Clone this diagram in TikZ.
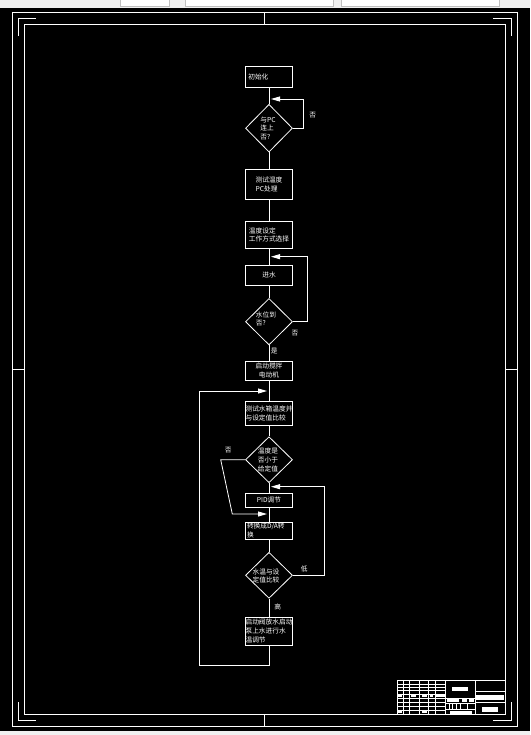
\documentclass[tikz,border=0pt]{standalone}
\usepackage{fontspec}
\newfontfamily\cjk{Noto Sans CJK SC}
\usetikzlibrary{shapes.geometric,arrows.meta}
\begin{document}
\begin{tikzpicture}[x=1pt,y=-1pt,
  line/.style={draw=white,line width=0.8pt},
  frame/.style={draw=white,line width=0.8pt},
  tb/.style={draw=white,line width=0.6pt},
  blob/.style={fill=white},
  box/.style={draw=white,line width=0.8pt,rectangle,minimum width=47.4pt,inner xsep=0pt,inner ysep=0.5pt,text=white,font=\cjk\fontsize{6.7}{8.6}\selectfont,align=left},
  dia/.style={draw=white,line width=0.8pt,diamond,minimum width=47pt,minimum height=46.5pt,inner sep=0pt},
  dtext/.style={text=white,font=\cjk\fontsize{6.7}{8.6}\selectfont,align=left,inner sep=0pt},
  lbl/.style={text=white,font=\cjk\fontsize{6.7}{8.6}\selectfont,inner sep=0pt},
  arr/.style={line,-{Triangle[length=9pt,width=5pt]},shorten >=2pt},
]
\useasboundingbox (0,0) rectangle (530,735);
% background and UI strips
\fill[black] (0,8) rectangle (530,731);
\fill[gray!12] (0,0) rectangle (530,8);
\fill[gray!12] (0,731) rectangle (530,735);
\filldraw[fill=white,draw=gray!50,line width=0.4pt] (120,-1) rectangle (169,6);
\filldraw[fill=white,draw=gray!50,line width=0.4pt] (185,-1) rectangle (333,6);
\filldraw[fill=white,draw=gray!50,line width=0.4pt] (341,-1) rectangle (499,6);
% drawing frame
\draw[frame] (12,12) rectangle (517,726);
\draw[frame] (24,24) rectangle (505,714);
\draw[frame] (18,36) -- (18,18) -- (36,18);
\draw[frame] (493,18) -- (511,18) -- (511,36);
\draw[frame] (18,702) -- (18,720) -- (36,720);
\draw[frame] (493,720) -- (511,720) -- (511,702);
\draw[frame] (264.5,12) -- (264.5,24);
\draw[frame] (264.5,714) -- (264.5,726);
\draw[frame] (12,369) -- (24,369);
\draw[frame] (505,369) -- (517,369);
% title block
\draw[tb] (397.3,680) rectangle (505,714);
\foreach \xx in {403.3,409.3,419.3,428.7,435.7,445.7,475} \draw[tb] (\xx,680) -- (\xx,714);
\foreach \yy in {684.3,687.3,690.7,694,698,702,706,710} \draw[tb] (397.3,\yy) -- (445.7,\yy);
\draw[tb] (445.7,698) -- (475,698);
\draw[tb] (445.7,703.3) -- (475,703.3);
\draw[tb] (445.7,709.3) -- (475,709.3);
\foreach \xx in {449,452.7,456.7,460.7,467.3} \draw[tb] (\xx,703.3) -- (\xx,709.3);
\draw[tb] (475,691.3) -- (505,691.3);
\draw[tb] (475,702.7) -- (505,702.7);
\fill[blob] (452,686.7) rectangle (468,691.3);
\fill[blob] (446.7,699.3) rectangle (459,702);
\fill[blob] (462,699.3) rectangle (466.7,702);
\fill[blob] (469,699.3) rectangle (474,702);
\fill[blob] (450,710.7) rectangle (472,714);
\fill[blob] (476,694.7) rectangle (503.7,700);
\fill[blob] (482,706.7) rectangle (497.7,711.7);
\fill[blob] (397.3,694) rectangle (402,696.7);
\fill[blob] (410.7,694) rectangle (416,696.7);
\fill[blob] (422,694) rectangle (426.7,696.7);
\fill[blob] (430,694) rectangle (432.7,696.7);
\fill[blob] (435.7,694) rectangle (445,696.7);
\fill[blob] (397.3,710) rectangle (402,713.3);
\fill[blob] (422,710) rectangle (426.7,713.3);
% flowchart nodes
\node[box,minimum height=21pt,text width=41.4pt] (b1) at (269,76.8) {初始化};
\node[dia,minimum height=47.7pt] (d1) at (269,128.2) {};
\node[dtext] (t1) at (268,128.3) {与PC\\连上\\否?};
\node[box,minimum height=30pt] (b2) at (269,184.3) {测试温度\\PC处理};
\node[box,minimum height=27.7pt] (b3) at (269,234.9) {温度设定\\工作方式选择};
\node[box,minimum height=20.7pt,align=center] (b4) at (269,275.3) {进水};
\node[dia] (d2) at (269,321.7) {};
\node[dtext] (t2) at (266,319) {水位到\\否?};
\node[box,minimum height=19.3pt,align=center] (b5) at (269,370.7) {启动搅拌\\电动机};
\node[box,minimum height=23.3pt] (b6) at (269,413.3) {测试水箱温度并\\与设定值比较};
\node[dia,minimum height=46pt] (d3) at (269,459.7) {};
\node[dtext] (t3) at (268,460) {温度是\\否小于\\给定值};
\node[box,minimum height=14.3pt,align=center] (b7) at (269,500.2) {PID调节};
\node[box,minimum height=17.3pt,text width=44pt] (b8) at (269,530.7) {转换成D/A转\\换};
\node[dia,minimum height=46pt] (d4) at (269,575.3) {};
\node[dtext] (t4) at (266,576) {水温与设\\定值比较};
\node[box,minimum height=28pt] (b9) at (269,631) {启动阀放水启动\\泵上水进行水\\温调节};
% branch labels
\node[lbl] (n1) at (312.7,115) {否};
\node[lbl] (n2) at (295,333) {否};
\node[lbl] (n3) at (274.3,351) {是};
\node[lbl] (n4) at (228.3,450) {否};
\node[lbl] (n5) at (304.3,569.3) {低};
\node[lbl] (n6) at (277.7,606.7) {高};
% main flow
\draw[line] (b1) -- (d1);
\draw[line] (d1) -- (b2);
\draw[line] (b2) -- (b3);
\draw[line] (b3) -- (b4);
\draw[line] (b4) -- (d2);
\draw[line] (d2) -- (b5);
\draw[line] (b5) -- (b6);
\draw[line] (b6) -- (d3);
\draw[line] (d3) -- (b7);
\draw[line] (b7) -- (b8);
\draw[line] (b8) -- (d4);
\draw[line] (d4) -- (b9);
% loop coordinates
\coordinate (m1) at (269,99);
\coordinate (c1) at (303.3,99);
\coordinate (m2) at (269,256.7);
\coordinate (c2) at (307.3,256.7);
\coordinate (m3) at (269,391);
\coordinate (c3) at (199.3,391);
\coordinate (e1) at (269,665.7);
\coordinate (c4a) at (220.7,459.7);
\coordinate (c4b) at (232.3,514);
\coordinate (m4) at (269,514);
\coordinate (c5) at (324.3,486.7);
\coordinate (m5) at (269,486.7);
% loops
\draw[arr] (d1.east) -| (c1) -- (m1);
\draw[arr] (d2.east) -| (c2) -- (m2);
\draw[arr] (b9.south) -- (e1) -| (c3) -- (m3);
\draw[arr] (d3.west) -- (c4a) -- (c4b) -- (m4);
\draw[arr] (d4.east) -| (c5) -- (m5);
\end{tikzpicture}
\end{document}
